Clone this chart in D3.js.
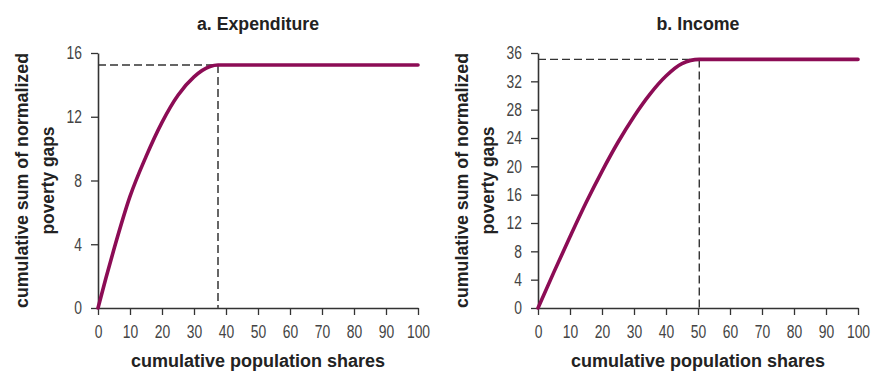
<!DOCTYPE html>
<html>
<head>
<meta charset="utf-8">
<script src="https://cdn.jsdelivr.net/npm/d3@7"></script>
<style>
  html, body { margin: 0; padding: 0; background: #fff; }
  svg { display: block; }
  .tick text { font-family: "Liberation Sans", Arial, sans-serif; font-size: 18px; fill: #444; }
  .ttl { font-family: "Liberation Sans", Arial, sans-serif; font-weight: bold; font-size: 18px; fill: #222; }
</style>
</head>
<body>
<svg id="chart" width="872" height="373"></svg>
<script>
// ---- data ----
const xTicks = [0, 10, 20, 30, 40, 50, 60, 70, 80, 90, 100];

const expTitle = "a. Expenditure";
const expX = [0, 2.5, 5, 10, 15, 20, 25, 30, 35, 37.5, 100];
const expY = [0, 1.9, 3.7, 7.0, 9.5, 11.65, 13.35, 14.5, 15.15, 15.25, 15.25];
const expCut = 37.5, expMax = 15.25;
const expYTicks = [0, 4, 8, 12, 16];

const incTitle = "b. Income";
const incX = [0, 5, 10, 15, 20, 25, 30, 35, 40, 45, 50.4, 100];
const incY = [0, 5.1, 10.05, 14.85, 19.3, 23.4, 27.05, 30.2, 32.75, 34.5, 35.1, 35.1];
const incCut = 50.4, incMax = 35.1;
const incYTicks = [0, 4, 8, 12, 16, 20, 24, 28, 32, 36];

const xLabel = "cumulative population shares";
const yLabel1 = "cumulative sum of normalized";
const yLabel2 = "poverty gaps";

const svg = d3.select("#chart");
const lineColor = "#8c0c55";

// condense a text horizontally (reference uses a condensed typeface)
function condense(sel, factor) {
  sel.each(function () {
    const w = this.getComputedTextLength();
    d3.select(this).attr("textLength", w * factor).attr("lengthAdjust", "spacingAndGlyphs");
  });
}

function panel(opt) {
  const x = d3.scaleLinear().domain([0, 100]).range([opt.x0, opt.x0 + 320]);
  const y = d3.scaleLinear().domain([0, opt.yMaxTick]).range([308, 53]);
  const g = svg.append("g");

  // axes
  const ax = g.append("g").attr("transform", "translate(0,308)")
    .call(d3.axisBottom(x).tickValues(xTicks).tickSize(7).tickPadding(8).tickSizeOuter(0));
  const ay = g.append("g").attr("transform", `translate(${opt.x0},0)`)
    .call(d3.axisLeft(y).tickValues(opt.yTicks).tickSize(7).tickPadding(9).tickSizeOuter(0));
  [ax, ay].forEach(a => {
    a.select(".domain").attr("stroke", "#333").attr("stroke-width", 1.6);
    a.selectAll(".tick line").attr("stroke", "#333").attr("stroke-width", 1.3);
    a.selectAll(".tick text").attr("fill", "#444");
    condense(a.selectAll(".tick text"), 0.77);
  });
  ax.selectAll(".tick text").attr("dy", "0.71em").attr("y", 17);

  // dashed guide lines
  g.append("line")
    .attr("x1", x(0)).attr("x2", x(opt.cut))
    .attr("y1", y(opt.maxV)).attr("y2", y(opt.maxV))
    .attr("stroke", "#333").attr("stroke-width", 1.4).attr("stroke-dasharray", "8,4");
  g.append("line")
    .attr("x1", x(opt.cut)).attr("x2", x(opt.cut))
    .attr("y1", y(opt.maxV)).attr("y2", y(0))
    .attr("stroke", opt.vColor).attr("stroke-width", opt.vWidth).attr("stroke-dasharray", "8,4");

  // curve
  const pts = opt.xs.map((d, i) => [d, opt.ys[i]]);
  g.append("path")
    .datum(pts)
    .attr("fill", "none")
    .attr("stroke", lineColor)
    .attr("stroke-width", 3.6)
    .attr("stroke-linecap", "round")
    .attr("d", d3.line().x(d => x(d[0])).y(d => y(d[1])).curve(d3.curveMonotoneX));

  // titles
  const cx = (x(0) + x(100)) / 2;
  g.append("text").attr("class", "ttl")
    .attr("x", cx).attr("y", 30)
    .attr("text-anchor", "middle").attr("textLength", opt.titleW)
    .attr("lengthAdjust", "spacingAndGlyphs").text(opt.title);
  g.append("text").attr("class", "ttl")
    .attr("x", cx).attr("y", 367)
    .attr("text-anchor", "middle").attr("textLength", 254)
    .attr("lengthAdjust", "spacingAndGlyphs").text(xLabel);
  const yc = (y(0) + y(opt.yMaxTick)) / 2;
  g.append("text").attr("class", "ttl")
    .attr("transform", `translate(${opt.x0 - 70},${yc}) rotate(-90)`)
    .attr("text-anchor", "middle").attr("textLength", 255)
    .attr("lengthAdjust", "spacingAndGlyphs").text(yLabel1);
  g.append("text").attr("class", "ttl")
    .attr("transform", `translate(${opt.x0 - 44},${yc}) rotate(-90)`)
    .attr("text-anchor", "middle").attr("textLength", 108)
    .attr("lengthAdjust", "spacingAndGlyphs").text(yLabel2);
}

panel({ x0: 98, yMaxTick: 16, yTicks: expYTicks, xs: expX, ys: expY, cut: expCut, maxV: expMax,
        title: expTitle, titleW: 122, vColor: "#666", vWidth: 2 });
panel({ x0: 538, yMaxTick: 36, yTicks: incYTicks, xs: incX, ys: incY, cut: incCut, maxV: incMax,
        title: incTitle, titleW: 83, vColor: "#333", vWidth: 1.4 });
</script>
</body>
</html>
